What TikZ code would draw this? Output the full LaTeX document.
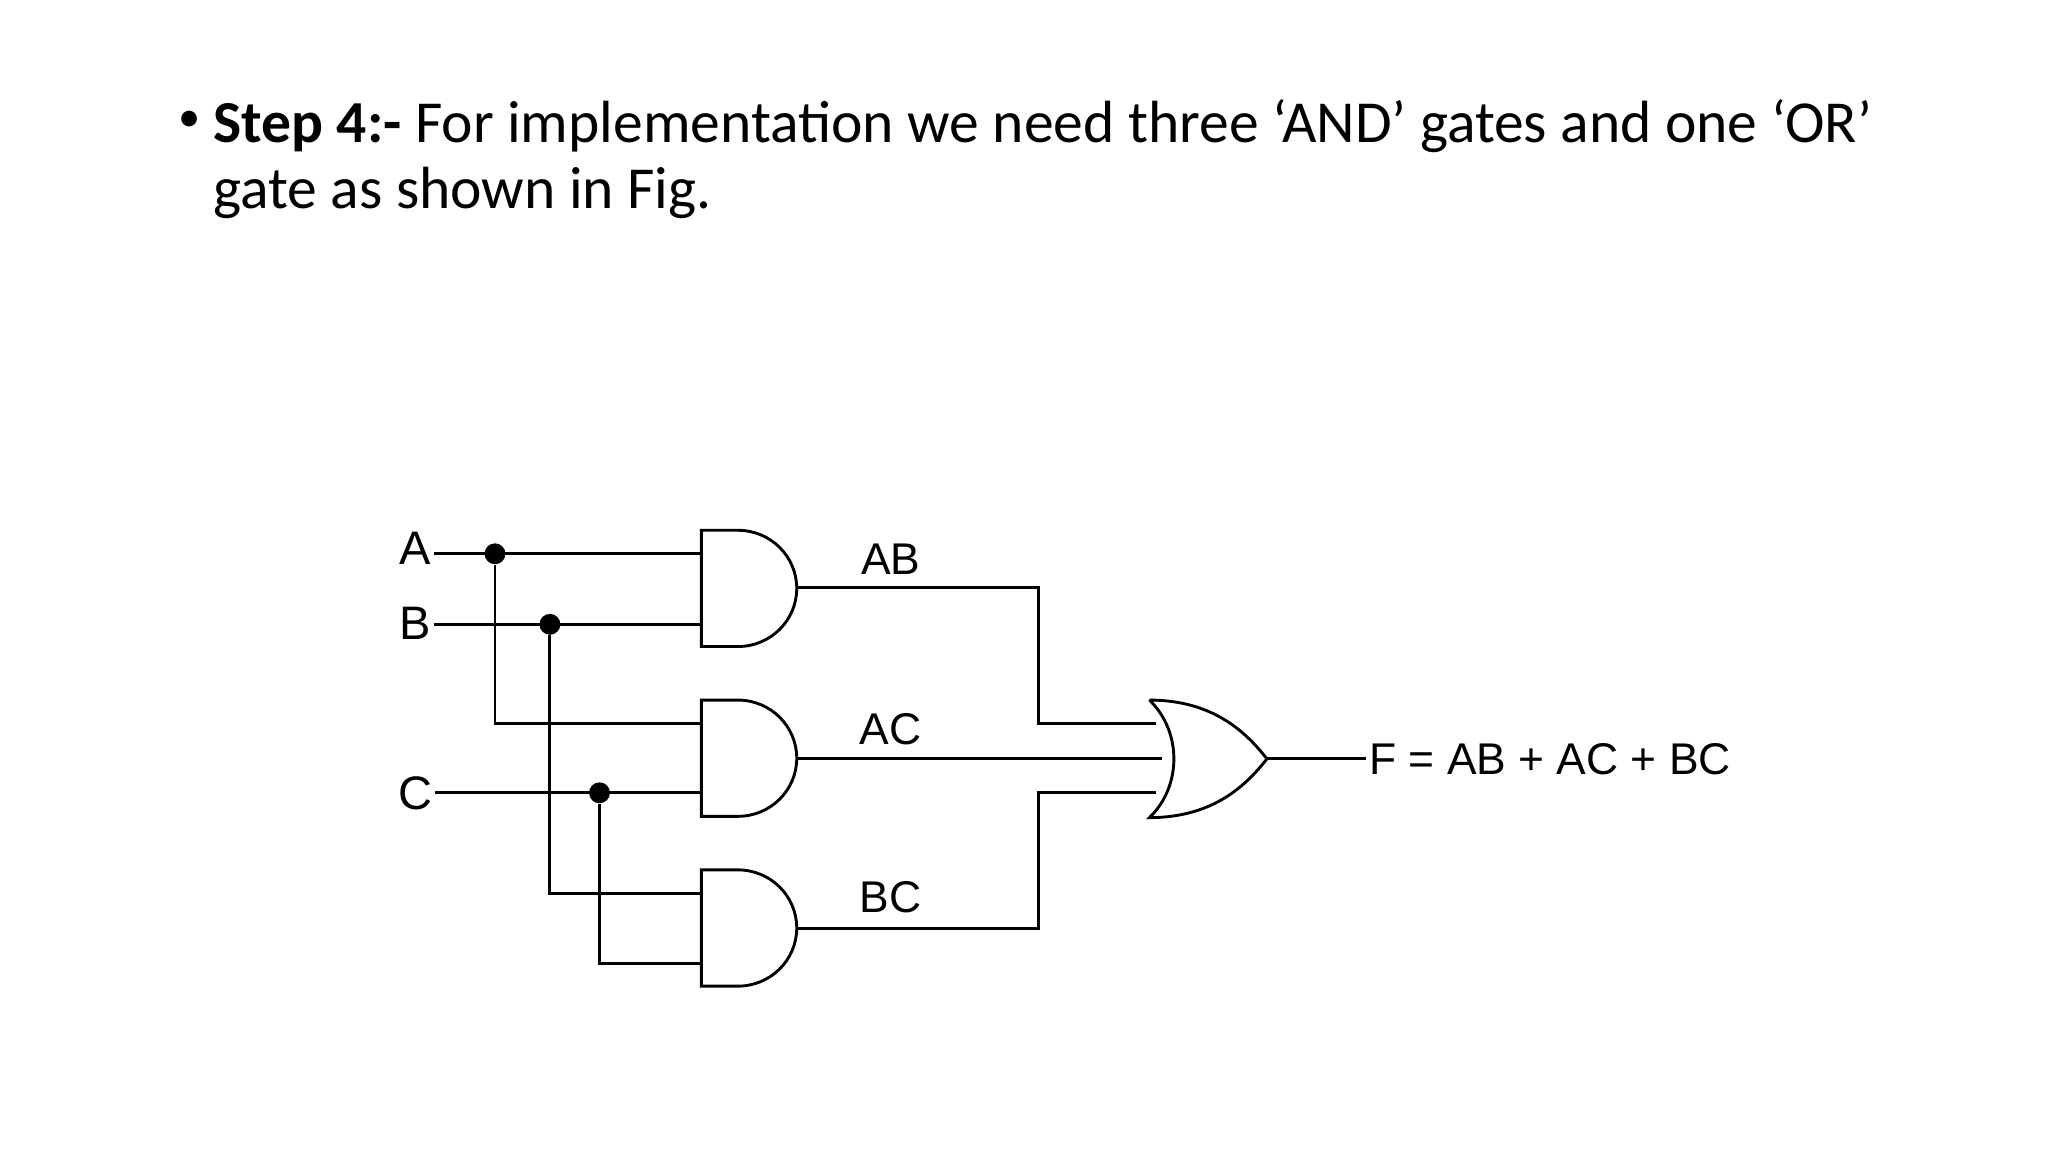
\documentclass[tikz,border=0pt]{standalone}
\usepackage{fontspec}
\setmainfont{Carlito}
\newfontfamily\arialf{Liberation Sans}
\begin{document}
\begin{tikzpicture}[x=0.5pt,y=-0.5pt,
  w/.style={line width=1.1pt},
  lbl/.style={font=\arialf\fontsize{17}{20}\selectfont,inner sep=0pt},
  dot/.style={circle,fill=black,inner sep=0pt,minimum size=8pt}]
\useasboundingbox (0,0) rectangle (1568,882);
\node[anchor=west,inner sep=0pt] (bul) at (136,93) {\fontsize{17}{20}\selectfont •};
\node[anchor=north west,inner sep=0pt,align=left,font=\fontsize{22.8}{25}\selectfont] (title) at (163,76)
 {\textbf{Step 4:-} For implementation we need three ‘AND’ gates and one ‘OR’\\gate as shown in Fig.};
% AND gates
\foreach \n/\y in {g1/406,g2/536,g3/666}{
  \draw[w] (565,\y) -- (537,\y) -- (537,\y+89) -- (565,\y+89) arc[start angle=-90,end angle=90,x radius=45,y radius=-44.5];
}
% OR gate
\draw[w] (880,536) .. controls (905,560) and (905,602) .. (880,626)
  .. controls (930,626) and (955,600) .. (970,581)
  .. controls (955,562) and (930,536) .. (880,536);
% inputs
\node[lbl,font=\arialf\fontsize{18}{20}\selectfont] (A) at (318,420) {A};
\node[lbl,font=\arialf\fontsize{18}{20}\selectfont] (B) at (318,477) {B};
\node[lbl,font=\arialf\fontsize{18}{20}\selectfont] (C) at (318,607) {C};
\node[dot] (dA) at (379,424) {};
\node[dot] (dB) at (421,478) {};
\node[dot] (dC) at (459,607) {};
\draw[w] (A.east) ++(2,4) -- (537,424);
\draw[w] (B.east) ++(2,1) -- (537,478);
\draw[w] (C.east) ++(2,0) -- (537,607);
\draw[w] (dA) -- (379,554) -- (537,554);
\draw[w] (dB) -- (421,684) -- (537,684);
\draw[w] (dC) -- (459,738) -- (537,738);
% outputs
\draw[w] (610,450) -- (795,450) -- (795,554) -- (885,554);
\draw[w] (610,581) -- (890,581);
\draw[w] (610,711) -- (795,711) -- (795,607) -- (885,607);
\draw[w] (970,581) -- (1046,581);
\node[lbl] (ab) at (682,428) {AB};
\node[lbl] (ac) at (682,558) {AC};
\node[lbl] (bc) at (682,687) {BC};
\node[lbl,anchor=west] (F) at (1048,581) {F = AB + AC + BC};
\end{tikzpicture}
\end{document}
